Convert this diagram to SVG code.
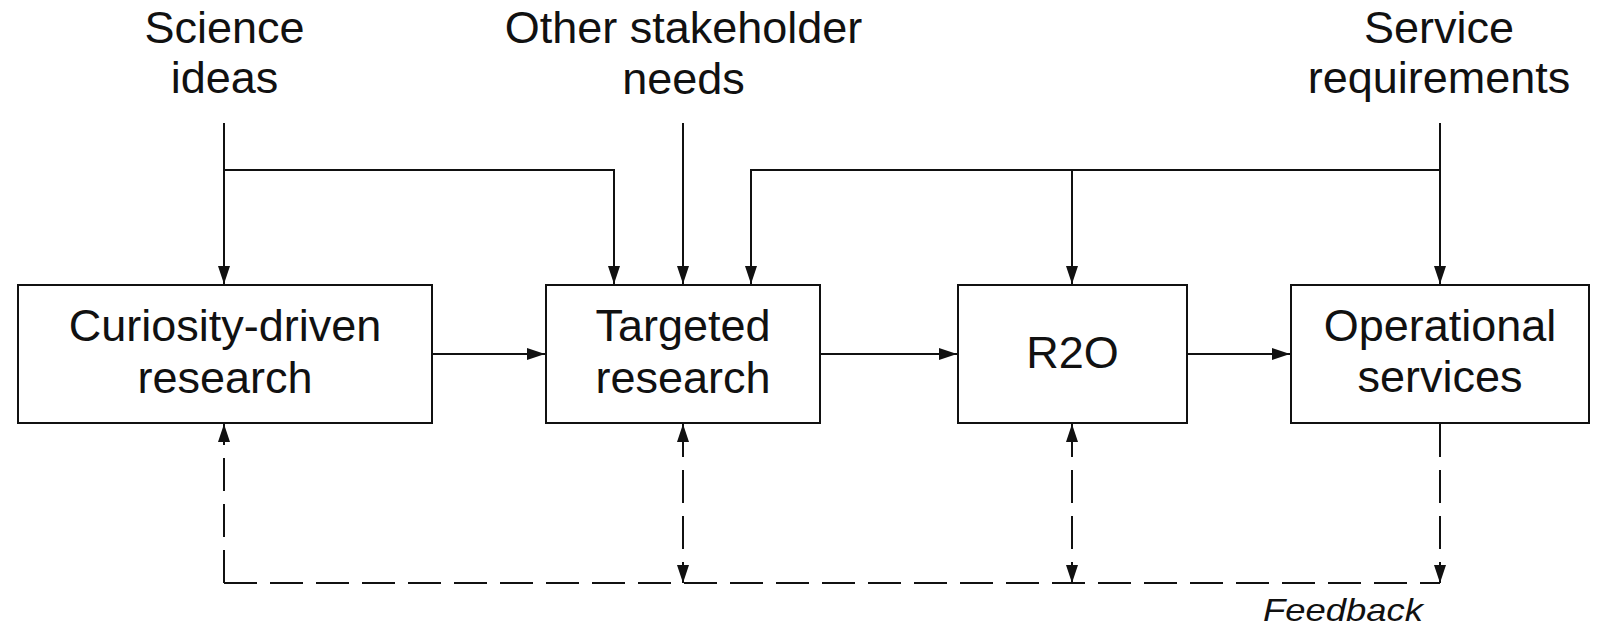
<svg xmlns="http://www.w3.org/2000/svg" width="1598" height="630" viewBox="0 0 1598 630">
  <style>
    .box { fill: #ffffff; stroke: #111111; stroke-width: 2; }
    .lbl { font-family: "Liberation Sans", Arial, sans-serif; font-size: 45px; fill: #111111; text-anchor: middle; }
    .line { fill: none; stroke: #111111; stroke-width: 2; }
    .dash { fill: none; stroke: #111111; stroke-width: 2; stroke-dasharray: 33 13; }
    .fb { font-family: "Liberation Sans", Arial, sans-serif; font-size: 32px; font-style: italic; fill: #111111; }
  </style>
  <defs>
    <marker id="arr" markerUnits="userSpaceOnUse" markerWidth="20" markerHeight="14" refX="18" refY="6" orient="auto-start-reverse" viewBox="0 0 20 12">
      <path d="M0,0 L18,6 L0,12 z" fill="#111111"/>
    </marker>
  </defs>
  <rect width="1598" height="630" fill="#ffffff"/>

  <g id="input-science">
    <text class="lbl" x="224.5" y="43">Science</text>
    <text class="lbl" x="224.5" y="93">ideas</text>
  </g>
  <g id="input-stakeholder">
    <text class="lbl" x="683.5" y="43">Other stakeholder</text>
    <text class="lbl" x="683.5" y="94">needs</text>
  </g>
  <g id="input-service">
    <text class="lbl" x="1439" y="43">Service</text>
    <text class="lbl" x="1439" y="93">requirements</text>
  </g>

  <g id="node-curiosity">
    <rect class="box" x="18" y="285" width="414" height="138"/>
    <text class="lbl" x="225" y="341">Curiosity-driven</text>
    <text class="lbl" x="225" y="393">research</text>
  </g>
  <g id="node-targeted">
    <rect class="box" x="546" y="285" width="274" height="138"/>
    <text class="lbl" x="683" y="341">Targeted</text>
    <text class="lbl" x="683" y="393">research</text>
  </g>
  <g id="node-r2o">
    <rect class="box" x="958" y="285" width="229" height="138"/>
    <text class="lbl" x="1072.5" y="368">R2O</text>
  </g>
  <g id="node-operational">
    <rect class="box" x="1291" y="285" width="298" height="138"/>
    <text class="lbl" x="1440" y="341">Operational</text>
    <text class="lbl" x="1440" y="392">services</text>
  </g>

  <g id="connectors">
    <!-- top inputs -->
    <path class="line" d="M224,123 V284" marker-end="url(#arr)"/>
    <path class="line" d="M224,170 H614 V284" marker-end="url(#arr)"/>
    <path class="line" d="M683,123 V284" marker-end="url(#arr)"/>
    <path class="line" d="M1440,123 V284" marker-end="url(#arr)"/>
    <path class="line" d="M1440,170 H751 V284" marker-end="url(#arr)"/>
    <path class="line" d="M1072,170 V284" marker-end="url(#arr)"/>
    <!-- main flow -->
    <path class="line" d="M432,354 H545" marker-end="url(#arr)"/>
    <path class="line" d="M820,354 H957" marker-end="url(#arr)"/>
    <path class="line" d="M1187,354 H1290" marker-end="url(#arr)"/>
    <!-- feedback -->
    <path class="dash" d="M224,583 H1440"/>
    <path class="dash" d="M224,583 V424" marker-end="url(#arr)"/>
    <path class="dash" d="M683,424 V583" marker-start="url(#arr)" marker-end="url(#arr)"/>
    <path class="dash" d="M1072,424 V583" marker-start="url(#arr)" marker-end="url(#arr)"/>
    <path class="dash" d="M1440,424 V583" marker-end="url(#arr)"/>
  </g>

  <g id="label-feedback">
    <text class="fb" x="1263" y="621" textLength="160" lengthAdjust="spacingAndGlyphs">Feedback</text>
  </g>
</svg>
